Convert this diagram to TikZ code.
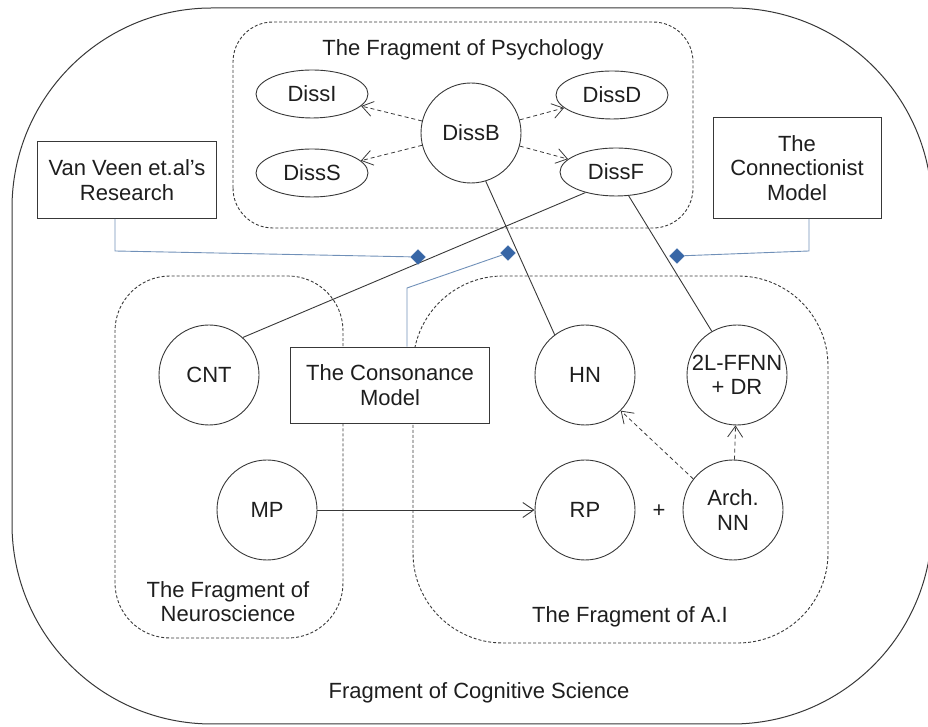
\documentclass[tikz,border=0pt]{standalone}
\usepackage{fontspec}
\setmainfont{Liberation Sans}
\usetikzlibrary{arrows.meta,shapes.geometric}
\definecolor{ink}{HTML}{383838}
\definecolor{txt}{HTML}{1E1E1E}
\definecolor{linkblue}{HTML}{7090B8}
\definecolor{diamondblue}{HTML}{3766A6}

\begin{document}
\begin{tikzpicture}[x=1pt,y=1pt,
  every node/.style={font=\fontsize{22}{24.5}\selectfont, text=txt},
  zone/.style={draw=ink, line width=0.9pt, dash pattern=on 3pt off 2pt, rounded corners=#1},
  bubble/.style={draw=ink, line width=0.9pt, circle, minimum size=100pt, inner sep=0pt, align=center},
  oval/.style={draw=ink, line width=0.9pt, ellipse, minimum width=112pt, minimum height=48pt, inner sep=0pt},
  panel/.style={draw=ink, fill=white, line width=0.9pt, rectangle, align=center, inner sep=0pt},
  link/.style={draw=ink, line width=0.9pt},
  openhead/.style={-{Straight Barb[length=11pt,width=15pt]}},
  dasharrow/.style={draw=ink, line width=0.8pt, dash pattern=on 4pt off 3pt, openhead},
  bluelink/.style={draw=linkblue, line width=0.9pt},
  joint/.style={diamond, fill=diamondblue, draw=diamondblue, minimum width=15pt, minimum height=15pt, inner sep=0pt}
]
\useasboundingbox (0,0) rectangle (928,727);

% outer region
\draw[ink, line width=1pt, rounded corners=200pt] (12,3) rectangle (932,719);
\node[anchor=base] (cogsci) at (479,28) {Fragment of Cognitive Science};

% sub-regions
\draw[zone=40pt] (233,499) rectangle (693,705);
\draw[zone=55pt] (115,89) rectangle (343,451);
\draw[zone=90pt] (413,84) rectangle (828,451);

\node[anchor=base] (psyT) at (463,671) {The Fragment of Psychology};
\node[align=center] (neuT) at (228,125.5) {The Fragment of\\Neuroscience};
\node[anchor=base] (aiT) at (630,104) {The Fragment of A.I};

% psychology
\node[bubble] (DissB) at (471,594) {DissB};
\node[oval] (DissI) at (312,633) {DissI};
\node[oval] (DissD) at (612,632) {DissD};
\node[oval] (DissS) at (312,554) {DissS};
\node[oval] (DissF) at (616,555) {DissF};

\draw[dasharrow] (DissB) -- (DissI);
\draw[dasharrow] (DissB) -- (DissD);
\draw[dasharrow] (DissB) -- (DissS);
\draw[dasharrow] (DissB) -- (DissF);

% models
\node[panel, minimum width=179pt, minimum height=77pt] (VV) at (127,547) {Van Veen et.al's\\Research};
\node[panel, minimum width=168pt, minimum height=101pt] (CM) at (797,559) {The\\Connectionist\\Model};
\node[panel, minimum width=199pt, minimum height=76pt] (CS) at (390,342) {The Consonance\\Model};

% neuroscience and A.I
\node[bubble] (CNT) at (209,352) {CNT};
\node[bubble] (MP) at (267,217) {MP};
\node[bubble] (HN) at (585,352) {HN};
\node[bubble] (FF) at (737,352) {2L-FFNN\\+ DR};
\node[bubble] (RP) at (585,217) {RP};
\node[bubble] (AN) at (733,217) {Arch.\\NN};
\node (plus) at (659,216) {+};

% links across fragments
\draw[link] (DissF.214) -- (CNT.48);
\draw[link] (DissB.287) -- (HN.127);
\draw[link] (DissF.298) -- (FF.120);
\draw[link, openhead] (MP) -- (RP);
\draw[dasharrow] (AN.142) -- (HN.-45);
\draw[dasharrow] (AN) -- (FF);

% model attachments
\node[joint] (jVV) at (418,470) {};
\node[joint] (jCS) at (508,474) {};
\node[joint] (jCM) at (677,471) {};
\coordinate (bVV) at (115,476);
\coordinate (bCS) at (407,439);
\coordinate (bCM) at (809,476);
\draw[bluelink] (bVV |- VV.south) -- (bVV) -- (jVV);
\draw[bluelink] (bCS |- CS.north) -- (bCS) -- (jCS);
\draw[bluelink] (bCM |- CM.south) -- (bCM) -- (jCM);
\end{tikzpicture}
\end{document}
